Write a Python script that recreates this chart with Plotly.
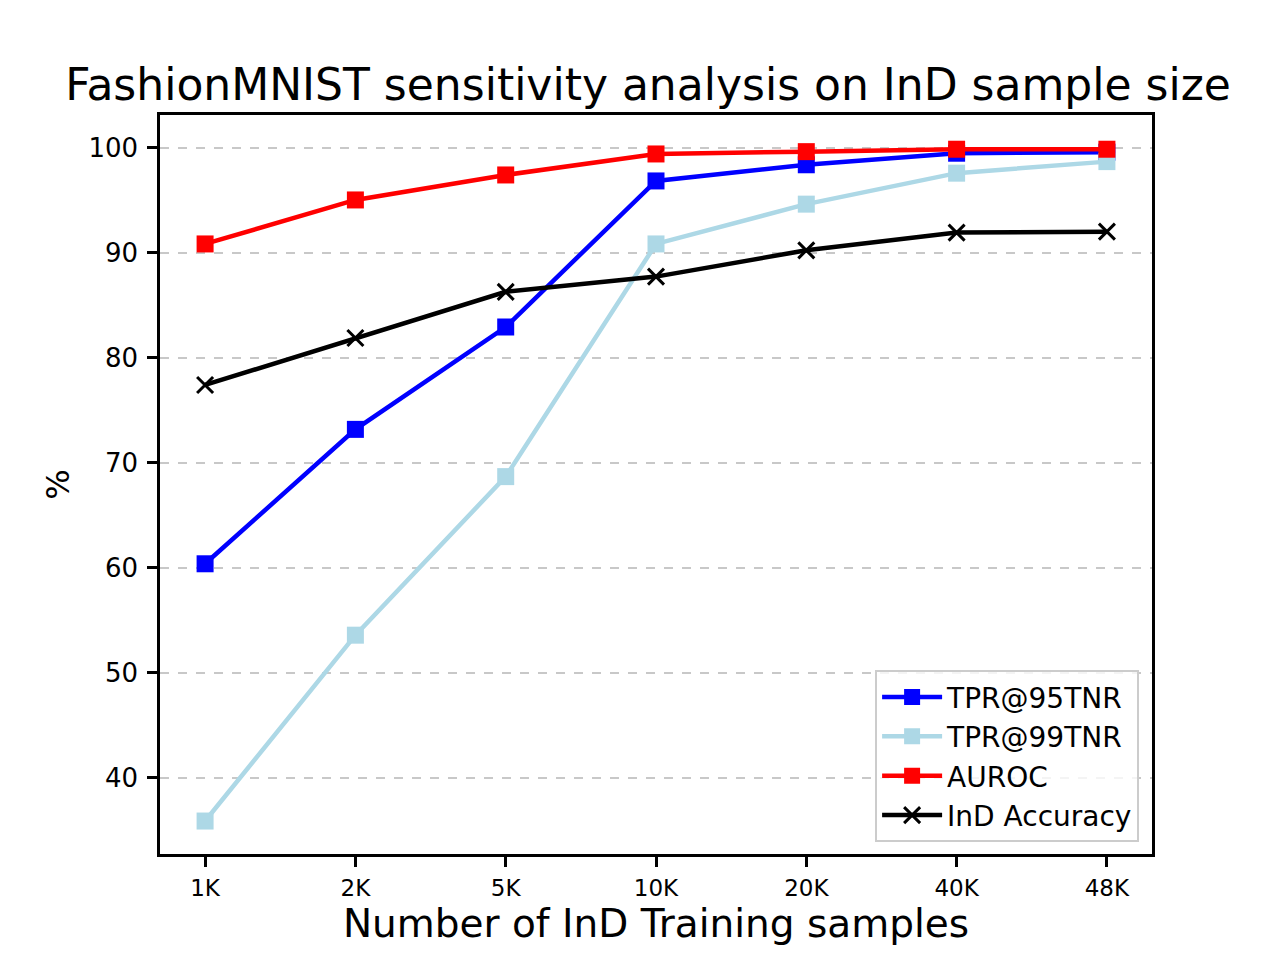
import plotly.graph_objects as go

# sample sizes on the x axis
samples = ["1K", "2K", "5K", "10K", "20K", "40K", "48K"]

tpr95 = [60.4, 73.2, 82.95, 96.86, 98.4, 99.5, 99.6]
tpr99 = [35.9, 53.6, 68.7, 90.86, 94.65, 97.6, 98.7]
auroc = [90.86, 95.05, 97.43, 99.43, 99.65, 99.88, 99.88]
ind_acc = [77.43, 81.9, 86.3, 87.75, 90.25, 91.94, 92.03]

fig = go.Figure()

fig.add_trace(go.Scatter(x=samples, y=tpr95, name="TPR@95TNR", mode="lines+markers",
                         line=dict(color="blue", width=4.5),
                         marker=dict(symbol="square", size=17, color="blue")))
fig.add_trace(go.Scatter(x=samples, y=tpr99, name="TPR@99TNR", mode="lines+markers",
                         line=dict(color="lightblue", width=4.5),
                         marker=dict(symbol="square", size=17, color="lightblue")))
fig.add_trace(go.Scatter(x=samples, y=auroc, name="AUROC", mode="lines+markers",
                         line=dict(color="red", width=4.5),
                         marker=dict(symbol="square", size=17, color="red")))
fig.add_trace(go.Scatter(x=samples, y=ind_acc, name="InD Accuracy", mode="lines+markers",
                         line=dict(color="black", width=4.5),
                         marker=dict(symbol="x-thin", size=16, color="black",
                                     line=dict(color="black", width=3))))

# the page puts the figure 8px in from the corner, so margins are shifted a bit
fig.update_layout(
    width=1280, height=960,
    margin=dict(l=152, r=136, t=107, b=114),
    paper_bgcolor="white", plot_bgcolor="white",
    font=dict(family="DejaVu Sans", color="black"),
    title=dict(text="FashionMNIST sensitivity analysis on InD sample size",
               font=dict(size=44), x=0.5, xanchor="center", y=0.92, yanchor="middle"),
    legend=dict(x=0.987, y=0.016, xanchor="right", yanchor="bottom",
                bordercolor="#cccccc", borderwidth=2, bgcolor="rgba(255,255,255,0.8)",
                font=dict(size=28), itemwidth=60),
    showlegend=True,
)

fig.update_xaxes(
    type="category", range=[-0.3, 6.3],
    title=dict(text="Number of InD Training samples", font=dict(size=39), standoff=10),
    tickfont=dict(size=23), ticks="outside", ticklen=10, tickwidth=2.5, tickcolor="black",
    ticklabelstandoff=2,
    showline=True, linecolor="black", linewidth=2.5, mirror=True, showgrid=False,
)
fig.update_yaxes(
    range=[32.76, 103.14], tickvals=[40, 50, 60, 70, 80, 90, 100],
    title=dict(text="%", font=dict(size=32), standoff=10),
    tickfont=dict(size=26), ticks="outside", ticklen=10, tickwidth=2.5, tickcolor="black",
    ticklabelstandoff=4,
    showline=True, linecolor="black", linewidth=2.5, mirror=True,
    showgrid=True, gridcolor="#c8c8c8", gridwidth=1.5, griddash="dash", zeroline=False,
)

fig.write_html("out.html")
